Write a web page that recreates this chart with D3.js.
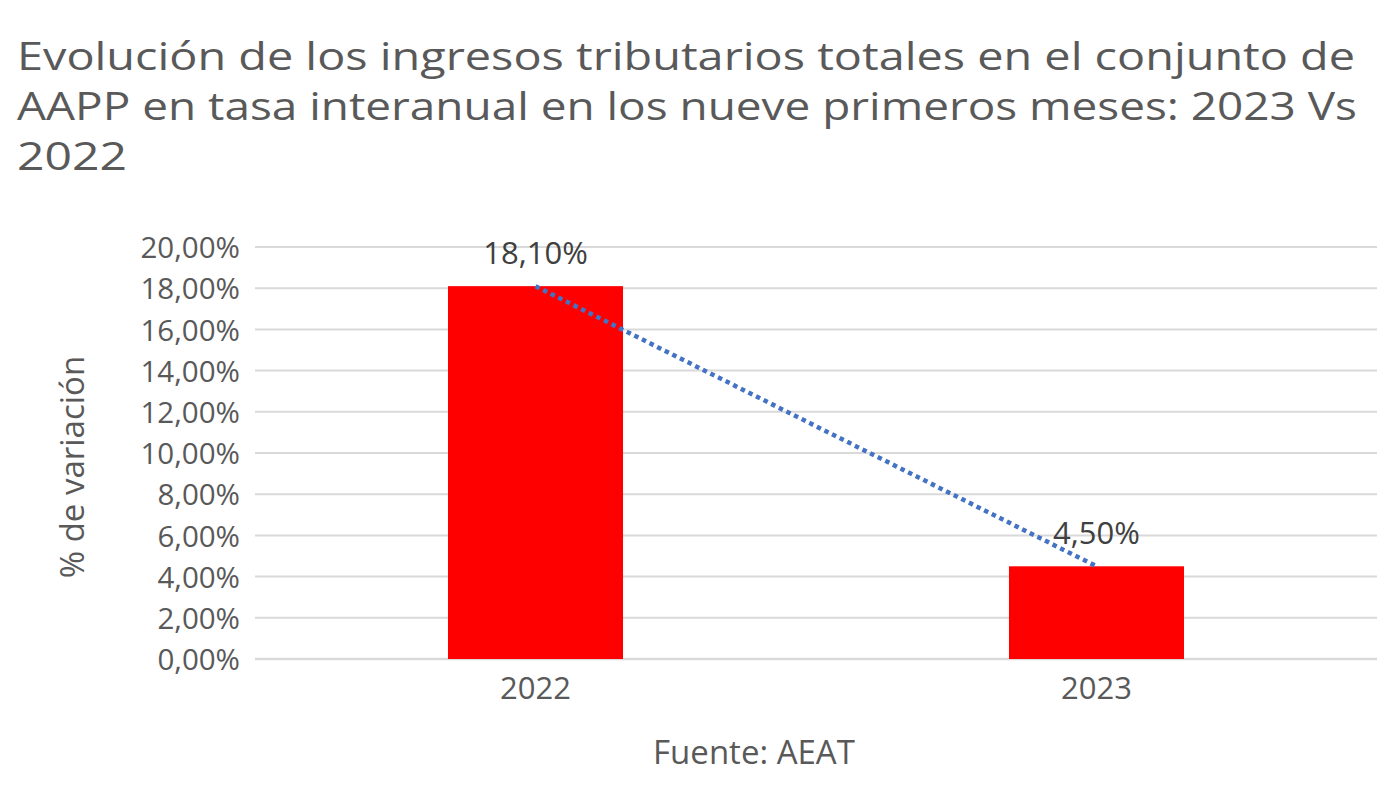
<!DOCTYPE html>
<html>
<head>
<meta charset="utf-8">
<script src="https://cdn.jsdelivr.net/npm/d3@7"></script>
<style>
  body { margin: 0; background: #fff; }
  svg { display: block; }
</style>
</head>
<body>
<svg id="chart" width="1400" height="789"></svg>
<script>
const years = ['2022', '2023'];
const growth = [18.1, 4.5];
const yTicks = [0, 2, 4, 6, 8, 10, 12, 14, 16, 18, 20];
const titleLines = [
  'Evolución de los ingresos tributarios totales en el conjunto de',
  'AAPP en tasa interanual en los nueve primeros meses: 2023 Vs',
  '2022',
];
const yLabel = '% de variación';
const source = 'Fuente: AEAT';

const font = "'Open Sans', sans-serif";
const ink = '#595959';
const margin = { top: 247, right: 23, bottom: 130, left: 255 };
const width = 1400;
const height = 789;

const svg = d3.select('#chart').attr('font-family', font);

const x = d3
  .scaleBand()
  .domain(years)
  .range([margin.left, width - margin.right])
  .padding(0);

const y = d3
  .scaleLinear()
  .domain([0, 20])
  .range([height - margin.bottom, margin.top]);

const fmt = v => d3.format('.2f')(v).replace('.', ',') + '%';

// title: the original face is narrower and taller, so stretch each line
// to the width it has in the original
const titleWidths = [1338, 1340, 110];
svg
  .append('g')
  .attr('fill', ink)
  .attr('font-size', 38)
  .selectAll('text')
  .data(titleLines)
  .enter()
  .append('text')
  .attr('x', 17)
  .attr('y', (d, i) => 70 + i * 50)
  .attr('textLength', (d, i) => titleWidths[i])
  .attr('lengthAdjust', 'spacingAndGlyphs')
  .text(d => d);

// gridlines
svg
  .append('g')
  .selectAll('line')
  .data(yTicks)
  .enter()
  .append('line')
  .attr('x1', margin.left)
  .attr('x2', width - margin.right)
  .attr('y1', d => y(d))
  .attr('y2', d => y(d))
  .attr('stroke', '#d9d9d9')
  .attr('stroke-width', d => (d === 0 ? 2.5 : 2));

// y axis labels
const yAxis = svg
  .append('g')
  .attr('transform', `translate(${margin.left - 12},0)`)
  .call(d3.axisLeft(y).tickValues(yTicks).tickFormat(fmt).tickSize(0));
yAxis.select('.domain').remove();
yAxis
  .selectAll('text')
  .attr('font-family', font)
  .attr('font-size', 29.5)
  .attr('fill', ink)
  .attr('dy', '0.36em');

// bars
const barWidth = x.bandwidth() * 0.312;
svg
  .append('g')
  .selectAll('rect')
  .data(years)
  .enter()
  .append('rect')
  .attr('x', (d) => x(d) + x.bandwidth() / 2 - barWidth / 2)
  .attr('y', (d, i) => y(growth[i]))
  .attr('width', barWidth)
  .attr('height', (d, i) => y(0) - y(growth[i]))
  .attr('fill', '#ff0000');

// dotted trend line between bar tops
const line = d3
  .line()
  .x(d => x(d.year) + x.bandwidth() / 2)
  .y(d => y(d.value));
svg
  .append('path')
  .datum(years.map((year, i) => ({ year, value: growth[i] })))
  .attr('d', line)
  .attr('fill', 'none')
  .attr('stroke', '#4472c4')
  .attr('stroke-width', 4.5)
  .attr('stroke-dasharray', '4.5,4');

// data labels
svg
  .append('g')
  .selectAll('text')
  .data(years)
  .enter()
  .append('text')
  .attr('x', d => x(d) + x.bandwidth() / 2)
  .attr('y', (d, i) => y(growth[i]) - 22)
  .attr('text-anchor', 'middle')
  .attr('font-size', 31)
  .attr('fill', '#404040')
  .text((d, i) => fmt(growth[i]));

// x axis labels
const xAxis = svg
  .append('g')
  .attr('transform', `translate(0,${y(0) + 11})`)
  .call(d3.axisBottom(x).tickSize(0));
xAxis.select('.domain').remove();
xAxis
  .selectAll('text')
  .attr('font-family', font)
  .attr('font-size', 31)
  .attr('fill', ink)
  .attr('dy', '0.85em');

// y axis title
svg
  .append('text')
  .attr('transform', `translate(84,${(y(0) + y(20)) / 2 + 14}) rotate(-90)`)
  .attr('text-anchor', 'middle')
  .attr('font-size', 33)
  .attr('fill', ink)
  .text(yLabel);

// source
svg
  .append('text')
  .attr('x', 754)
  .attr('y', 764)
  .attr('text-anchor', 'middle')
  .attr('font-size', 33)
  .attr('fill', ink)
  .text(source);
</script>
</body>
</html>
